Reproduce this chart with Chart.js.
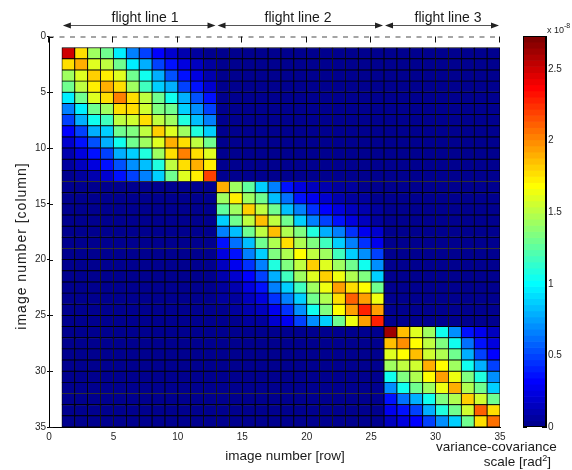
<!DOCTYPE html>
<html>
<head>
<meta charset="utf-8">
<script src="https://cdn.jsdelivr.net/npm/chart.js@4/dist/chart.umd.min.js"></script>
<style>
  body { margin: 0; background: #fff; }
  #wrap { position: relative; width: 572px; height: 470px; overflow: hidden;
          font-family: "Liberation Sans", Arial, sans-serif; color: #1a1a1a; }
  #wrap canvas { position: absolute; top: 0; }
  .lbl { position: absolute; white-space: nowrap; line-height: 16px; }
  .fl { font-size: 14px; width: 120px; text-align: center; top: 9px; }
  .ttl { font-size: 13.5px; }
  sup { font-size: 7px; vertical-align: 5px; line-height: 0; }
</style>
</head>
<body>
<div id="wrap">
  <canvas id="chart" width="572" height="470" style="left:0"></canvas>
  <canvas id="scale" width="49" height="470" style="left:523px"></canvas>

  <div class="lbl fl" style="left:85px">flight line 1</div>
  <div class="lbl fl" style="left:238px">flight line 2</div>
  <div class="lbl fl" style="left:388px">flight line 3</div>

  <div class="lbl ttl" style="left:185px;top:448px;width:200px;text-align:center">image number [row]</div>
  <div class="lbl ttl" style="left:-79px;top:238px;width:200px;text-align:center;font-size:14px;letter-spacing:1px;transform:rotate(-90deg)">image number [column]</div>
  <div class="lbl ttl" style="left:436px;top:439px">variance-covariance</div>
  <div class="lbl ttl" style="right:21px;top:454px">scale [rad<sup style="font-size:9px">2</sup>]</div>
  <div class="lbl" style="left:547px;top:25px;font-size:9px;line-height:10px">x 10<sup>-8</sup></div>
</div>

<script>
// colour limit of the variance-covariance scale (x 10^-8 rad^2)
const cMax = 2.73;
const colorLevels = 64;
const cellCount = 34;
const axisTicks = [0, 5, 10, 15, 20, 25, 30, 35];
const scaleTicks = [0, 0.5, 1, 1.5, 2, 2.5];

const flightLines = ["flight line 1", "flight line 2", "flight line 3"];
const flightSpans = [[1, 13], [13, 26], [26, 35]];
const blockStarts = [1, 13, 26];
const offBlock = 0.02;

const block1 = [
  [2.50, 1.78, 1.45, 1.28, 0.94, 0.64, 0.51, 0.30, 0.18, 0.11, 0.07, 0.02],
  [1.78, 1.91, 1.62, 1.53, 1.28, 0.94, 0.77, 0.51, 0.37, 0.23, 0.13, 0.07],
  [1.45, 1.62, 1.83, 1.74, 1.62, 1.28, 1.04, 0.77, 0.55, 0.37, 0.23, 0.11],
  [1.28, 1.53, 1.74, 1.91, 1.78, 1.45, 1.19, 0.89, 0.77, 0.51, 0.37, 0.18],
  [0.94, 1.28, 1.62, 1.78, 2.04, 1.78, 1.53, 1.28, 1.04, 0.77, 0.55, 0.37],
  [0.64, 0.94, 1.28, 1.45, 1.78, 1.78, 1.57, 1.36, 1.28, 0.89, 0.72, 0.51],
  [0.51, 0.77, 1.04, 1.19, 1.53, 1.57, 1.78, 1.53, 1.45, 1.10, 0.85, 0.68],
  [0.30, 0.51, 0.77, 0.89, 1.28, 1.36, 1.53, 1.83, 1.62, 1.45, 1.10, 0.89],
  [0.18, 0.37, 0.55, 0.77, 1.04, 1.28, 1.45, 1.62, 1.91, 1.78, 1.53, 1.28],
  [0.11, 0.23, 0.37, 0.51, 0.77, 0.89, 1.10, 1.45, 1.78, 2.04, 1.78, 1.62],
  [0.07, 0.13, 0.23, 0.37, 0.55, 0.72, 0.85, 1.10, 1.53, 1.78, 1.91, 1.74],
  [0.02, 0.07, 0.11, 0.18, 0.37, 0.51, 0.68, 0.89, 1.28, 1.62, 1.74, 2.21]
];

const block2 = [
  [1.91, 1.45, 1.25, 0.89, 0.64, 0.37, 0.23, 0.16, 0.11, 0.07, 0.05, 0.03, 0.02],
  [1.45, 1.74, 1.45, 1.28, 0.85, 0.60, 0.37, 0.26, 0.18, 0.11, 0.07, 0.05, 0.03],
  [1.25, 1.45, 1.83, 1.53, 1.28, 0.85, 0.64, 0.46, 0.34, 0.23, 0.15, 0.11, 0.05],
  [0.89, 1.28, 1.53, 1.87, 1.53, 1.28, 0.89, 0.68, 0.51, 0.37, 0.23, 0.16, 0.07],
  [0.64, 0.85, 1.28, 1.53, 1.87, 1.49, 1.36, 1.10, 0.81, 0.64, 0.46, 0.26, 0.18],
  [0.37, 0.60, 0.85, 1.28, 1.49, 1.78, 1.49, 1.36, 1.19, 0.89, 0.64, 0.46, 0.26],
  [0.23, 0.37, 0.64, 0.89, 1.36, 1.49, 1.70, 1.53, 1.45, 1.19, 0.89, 0.72, 0.51],
  [0.16, 0.26, 0.46, 0.68, 1.10, 1.36, 1.53, 1.83, 1.62, 1.45, 1.28, 1.04, 0.72],
  [0.11, 0.18, 0.34, 0.51, 0.81, 1.19, 1.45, 1.62, 1.83, 1.66, 1.49, 1.36, 0.89],
  [0.07, 0.11, 0.23, 0.37, 0.64, 0.89, 1.19, 1.45, 1.66, 1.96, 1.78, 1.70, 1.28],
  [0.05, 0.07, 0.15, 0.23, 0.46, 0.64, 0.89, 1.28, 1.49, 1.78, 2.13, 1.96, 1.66],
  [0.03, 0.05, 0.11, 0.16, 0.26, 0.46, 0.72, 1.04, 1.36, 1.70, 1.96, 2.30, 1.96],
  [0.02, 0.03, 0.05, 0.07, 0.18, 0.26, 0.51, 0.72, 0.89, 1.28, 1.66, 1.96, 2.30]
];

const block3 = [
  [2.63, 1.87, 1.62, 1.45, 1.04, 0.72, 0.37, 0.26, 0.13],
  [1.87, 2.00, 1.68, 1.53, 1.36, 1.04, 0.60, 0.37, 0.23],
  [1.62, 1.68, 1.87, 1.57, 1.49, 1.28, 0.77, 0.51, 0.30],
  [1.45, 1.53, 1.57, 1.91, 1.70, 1.45, 1.04, 0.77, 0.51],
  [1.04, 1.36, 1.49, 1.70, 1.96, 1.66, 1.36, 1.10, 0.72],
  [0.72, 1.04, 1.28, 1.45, 1.66, 1.91, 1.49, 1.28, 0.89],
  [0.37, 0.60, 0.77, 1.04, 1.36, 1.49, 1.83, 1.57, 1.28],
  [0.26, 0.37, 0.51, 0.77, 1.10, 1.28, 1.57, 2.13, 1.76],
  [0.13, 0.23, 0.30, 0.51, 0.72, 0.89, 1.28, 1.76, 2.09]
];

const blocks = [block1, block2, block3];

// matlab jet(64)
function jetPart(j) {
  if (j <= 0) return 0;
  if (j <= 16) return j / 16;
  if (j <= 31) return 1;
  if (j <= 47) return (48 - j) / 16;
  return 0;
}
function jetColor(k) {
  const r = Math.round(255 * jetPart(k - 24));
  const g = Math.round(255 * jetPart(k - 8));
  const b = Math.round(255 * jetPart(k + 8));
  return `rgb(${r},${g},${b})`;
}
function colorFor(v) {
  let k = Math.floor(v / cMax * colorLevels) + 1;
  k = Math.max(1, Math.min(colorLevels, k));
  return jetColor(k);
}

function valueAt(r, c) {
  for (let b = 0; b < blocks.length; b++) {
    const s = blockStarts[b], n = blocks[b].length;
    if (r >= s && r < s + n && c >= s && c < s + n) return blocks[b][r - s][c - s];
  }
  return offBlock;
}

const cells = [];
for (let r = 1; r <= cellCount; r++) {
  for (let c = 1; c <= cellCount; c++) {
    cells.push({ x: c + 0.5, y: [r, r + 1], v: valueAt(r, c) });
  }
}

const FONT = "'Liberation Sans', Arial, sans-serif";
const TICK_COLOR = "#262626";
Chart.defaults.font.family = FONT;

// top dashed frame, inside ticks and the flight line arrows
const frame = {
  id: "frame",
  afterDraw(chart) {
    const { ctx, chartArea: a, scales: { x, y } } = chart;
    ctx.save();
    ctx.strokeStyle = "#888";
    ctx.lineWidth = 1.3;
    ctx.setLineDash([5, 5.5]);
    ctx.beginPath();
    ctx.moveTo(a.left, a.top + 0.5);
    ctx.lineTo(a.right, a.top + 0.5);
    ctx.stroke();
    ctx.setLineDash([]);
    ctx.strokeStyle = "#111";
    ctx.lineWidth = 1;
    ctx.beginPath();
    axisTicks.forEach(t => {
      const px = Math.round(x.getPixelForValue(t)) - 0.5;
      ctx.moveTo(px, a.top);
      ctx.lineTo(px, a.top + 6);
      const py = Math.round(y.getPixelForValue(t)) + 0.5;
      ctx.moveTo(a.left, py);
      ctx.lineTo(a.left + 4, py);
    });
    ctx.stroke();

    // arrows
    const ay = 25.5;
    flightSpans.forEach(([from, to]) => {
      const x1 = x.getPixelForValue(from) + 1;
      const x2 = x.getPixelForValue(to) - 1;
      ctx.strokeStyle = "#555";
      ctx.lineWidth = 1;
      ctx.beginPath();
      ctx.moveTo(x1 + 4, ay);
      ctx.lineTo(x2 - 4, ay);
      ctx.stroke();
      ctx.fillStyle = "#222";
      ctx.beginPath();
      ctx.moveTo(x1, ay);
      ctx.lineTo(x1 + 8, ay - 3);
      ctx.lineTo(x1 + 8, ay + 3);
      ctx.closePath();
      ctx.moveTo(x2, ay);
      ctx.lineTo(x2 - 8, ay - 3);
      ctx.lineTo(x2 - 8, ay + 3);
      ctx.closePath();
      ctx.fill();
    });
    ctx.restore();
  }
};

new Chart(document.getElementById("chart"), {
  type: "bar",
  data: {
    datasets: [{
      data: cells,
      backgroundColor: ctx => colorFor(ctx.raw.v),
      borderColor: "#000",
      borderWidth: 0.8,
      borderSkipped: false,
      categoryPercentage: 1,
      barPercentage: 1
    }]
  },
  options: {
    responsive: false,
    animation: false,
    events: [],
    layout: { padding: { top: 36.5, right: 72, left: 0, bottom: 0 } },
    plugins: { legend: { display: false }, tooltip: { enabled: false } },
    scales: {
      x: {
        type: "linear", min: 0, max: 35, offset: false,
        ticks: { stepSize: 5, color: TICK_COLOR, font: { size: 10 }, padding: 4, maxRotation: 0 },
        grid: { offset: false, drawOnChartArea: false, drawTicks: false },
        border: { color: "#000", width: 1 },
        afterFit: s => { s.height = 43; }
      },
      y: {
        type: "linear", min: 0, max: 35, reverse: true,
        ticks: { stepSize: 5, color: TICK_COLOR, font: { size: 10 }, padding: 1 },
        grid: { drawOnChartArea: false, tickLength: 2, tickColor: "#000" },
        border: { color: "#000", width: 1 },
        afterFit: s => { s.width = 49; }
      }
    }
  },
  plugins: [frame]
});

// colour scale bar
const levels = [];
for (let k = 0; k < colorLevels; k++) {
  levels.push({ x: "", y: [k * cMax / colorLevels, (k + 1) * cMax / colorLevels], k: k + 1 });
}

const box = {
  id: "box",
  afterDraw(chart) {
    const { ctx, chartArea: a } = chart;
    ctx.save();
    ctx.strokeStyle = "#000";
    ctx.lineWidth = 1;
    ctx.strokeRect(a.left + 0.5, a.top + 0.5, a.right - a.left - 1, a.bottom - a.top - 1);
    ctx.restore();
  }
};

new Chart(document.getElementById("scale"), {
  type: "bar",
  data: {
    labels: [""],
    datasets: [{
      data: levels,
      backgroundColor: ctx => jetColor(ctx.raw.k),
      borderWidth: 0,
      categoryPercentage: 1,
      barPercentage: 1
    }]
  },
  options: {
    responsive: false,
    animation: false,
    events: [],
    layout: { padding: { top: 36, right: 0, left: 0, bottom: 43 } },
    plugins: { legend: { display: false }, tooltip: { enabled: false } },
    scales: {
      x: { display: false },
      y: {
        position: "right", min: 0, max: cMax, z: 1,
        afterBuildTicks: s => { s.ticks = scaleTicks.map(v => ({ value: v })); },
        ticks: { color: TICK_COLOR, font: { size: 10 }, padding: 2, callback: v => String(v) },
        grid: { drawOnChartArea: true, drawTicks: false, color: "#000", lineWidth: 1 },
        border: { color: "#000", dash: [4, 15] },
        afterFit: s => { s.width = 26; }
      }
    }
  },
  plugins: [box]
});
</script>
</body>
</html>
